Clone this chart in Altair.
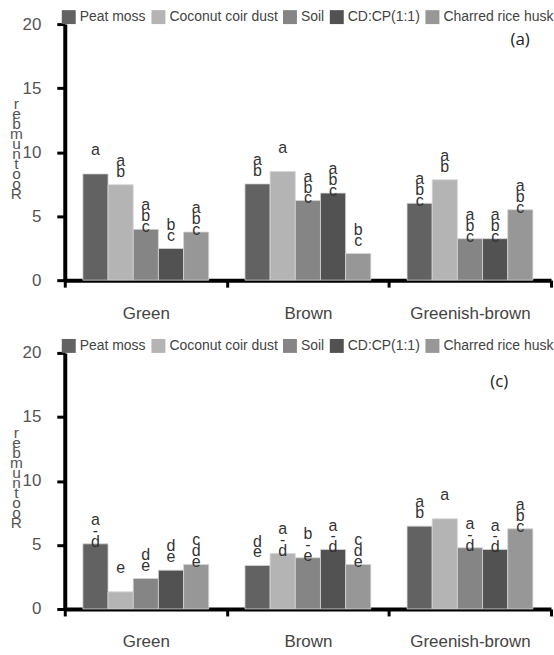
import altair as alt
import pandas as pd

groups = ["Green", "Brown", "Greenish-brown"]
substrates = ["Peat moss", "Coconut coir dust", "Soil", "CD:CP(1:1)", "Charred rice husk"]
colors = ["#626262", "#b4b4b4", "#858585", "#525252", "#979797"]

# Panel (a)
green_a = [8.3, 7.45, 3.97, 2.47, 3.76]
brown_a = [7.52, 8.48, 6.22, 6.8, 2.08]
greenish_a = [6.0, 7.84, 3.24, 3.24, 5.5]
green_a_letters = ["a", "ab", "abc", "bc", "abc"]
brown_a_letters = ["ab", "a", "abc", "abc", "bc"]
greenish_a_letters = ["abc", "ab", "abc", "abc", "abc"]

# Panel (c)
green_c = [5.09, 1.34, 2.38, 3.03, 3.48]
brown_c = [3.4, 4.34, 4.0, 4.65, 3.48]
greenish_c = [6.47, 7.04, 4.78, 4.65, 6.26]
green_c_letters = ["a-d", "e", "de", "de", "cde"]
brown_c_letters = ["de", "a-d", "b-e", "a-d", "cde"]
greenish_c_letters = ["ab", "a", "a-d", "a-d", "abc"]

y_ticks = [0, 5, 10, 15, 20]
y_title = "Root number"
panel_tags = ["(a)", "(c)"]


def build_df(vals, lets):
    rows = []
    for g, v, l in zip(groups, vals, lets):
        for s, val, let in zip(substrates, v, l):
            rows.append({"group": g, "substrate": s, "value": val,
                         "label": "\n".join(list(let))})
    return pd.DataFrame(rows)


df_a = build_df([green_a, brown_a, greenish_a],
                [green_a_letters, brown_a_letters, greenish_a_letters])
df_c = build_df([green_c, brown_c, greenish_c],
                [green_c_letters, brown_c_letters, greenish_c_letters])

title_lines = list(reversed(y_title.replace(" ", "")))
FONT = "Liberation Sans"


def panel(df, tag, tag_x, tag_y):
    x = alt.X("group:N", sort=groups,
              scale=alt.Scale(paddingInner=0, paddingOuter=0),
              axis=alt.Axis(title=None, labelAngle=0, tickBand="extent",
                            domainWidth=4, domainColor="black",
                            tickColor="black", tickWidth=3, tickSize=7,
                            labelPadding=18, labelFontSize=17,
                            labelColor="#444444", labelFont=FONT))
    xo = alt.XOffset("substrate:N", sort=substrates,
                     scale=alt.Scale(paddingInner=0, paddingOuter=0.72))
    y = alt.Y("value:Q", scale=alt.Scale(domain=[0, 20], nice=False),
              axis=alt.Axis(values=y_ticks, title=title_lines, titleAngle=0,
                            titleX=-49, titleY=73, titleAlign="center",
                            titleBaseline="top", titleLineHeight=10,
                            titleFontSize=15.5, titleFontWeight="normal",
                            titleColor="#555555", titleFont=FONT,
                            grid=False, domainWidth=4, domainColor="black",
                            tickColor="black", tickWidth=3, tickSize=8,
                            labelPadding=16, labelFontSize=17,
                            labelColor="#555555", labelFont=FONT))
    color = alt.Color("substrate:N", sort=substrates,
                      scale=alt.Scale(domain=substrates, range=colors),
                      legend=alt.Legend(title=None, orient="none", legendX=-3,
                                        legendY=-14, direction="horizontal",
                                        columns=5, symbolType="square",
                                        symbolSize=196, symbolStrokeWidth=0,
                                        symbolOpacity=1, labelFontSize=14,
                                        labelOffset=4, columnPadding=5,
                                        padding=0, labelColor="#444444",
                                        labelFont=FONT))
    bars = alt.Chart(df).mark_bar(stroke="#d6d6d6", strokeWidth=0.8).encode(
        x=x, xOffset=xo, y=y, color=color)
    text = alt.Chart(df).mark_text(baseline="bottom", dy=-16, fontSize=16,
                                   lineBreak="\n", lineHeight=11,
                                   color="#333333", font=FONT).encode(
        x=x, xOffset=xo, y=y, text="label:N")
    ann = alt.Chart(pd.DataFrame({"tag": [tag]})).mark_text(
        font="Open Sans", fontSize=17, color="#222222", align="center",
        baseline="middle").encode(x=alt.value(tag_x), y=alt.value(tag_y),
                                  text="tag:N")
    return alt.layer(bars, text, ann).properties(width=488, height=257)


pa = panel(df_a, panel_tags[0], 457, 16)
pc = panel(df_c, panel_tags[1], 436, 29)

chart = alt.vconcat(pa, pc, spacing=73, bounds="flush").resolve_legend(
    color="independent").properties(
    padding={"left": 9, "top": 9, "right": 0, "bottom": 0}
).configure_view(stroke=None)

chart.save("out.html", embed_options={"renderer": "svg", "actions": False})
